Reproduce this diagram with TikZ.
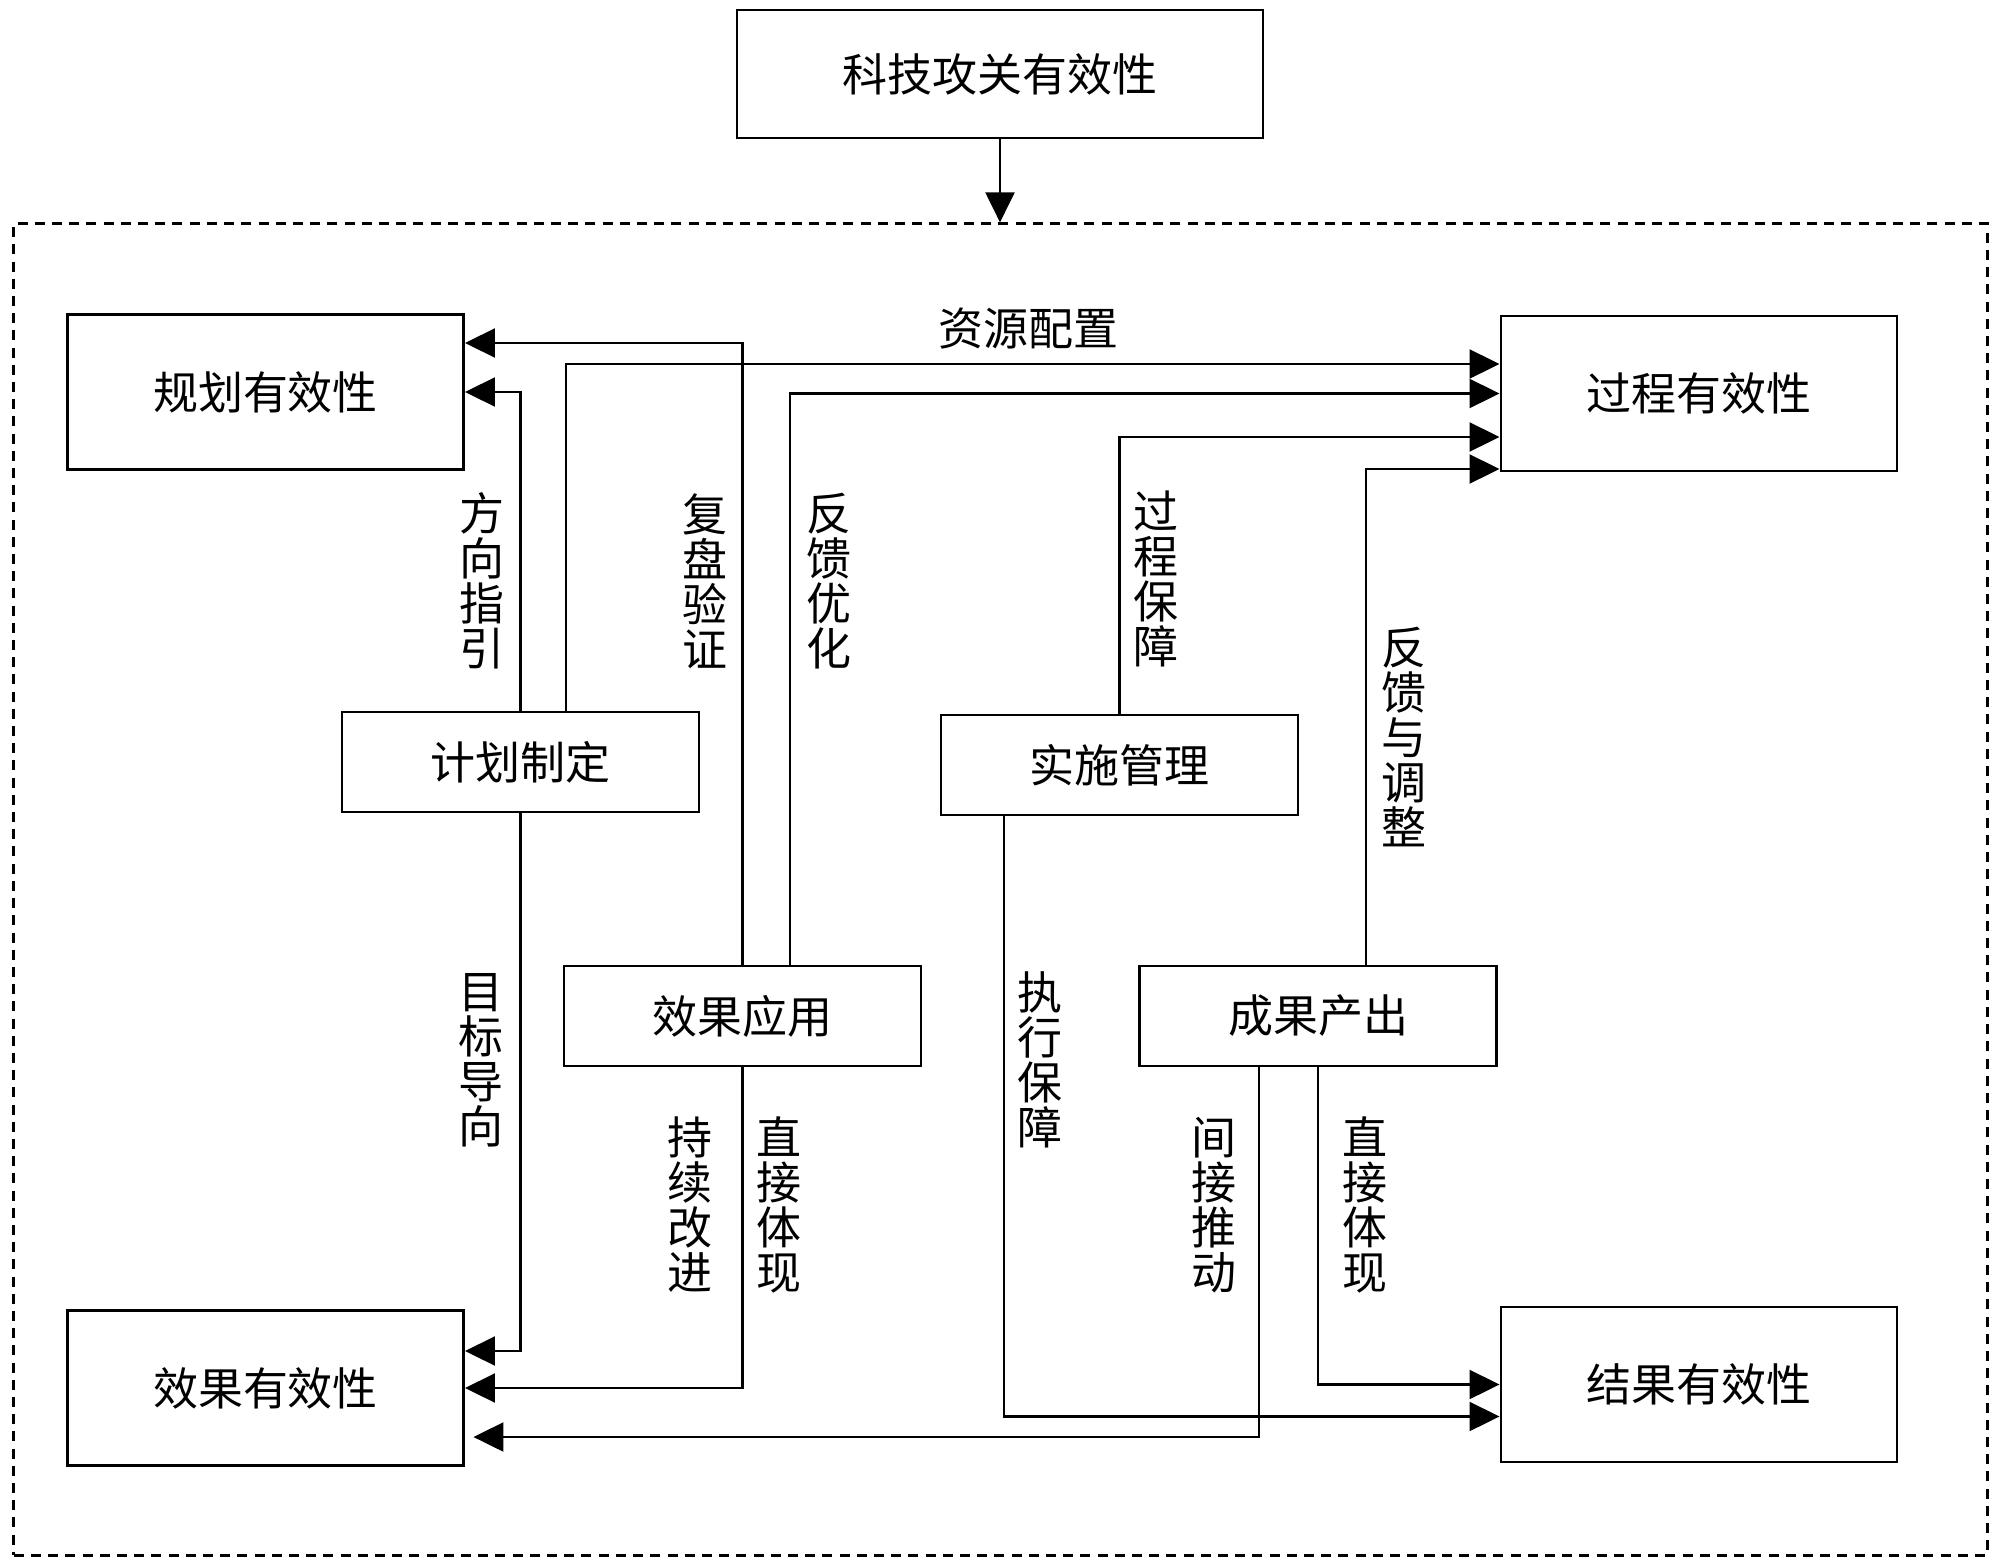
\documentclass[tikz,border=0pt]{standalone}
\usepackage{fontspec}
\newfontfamily\cjk{Noto Sans CJK SC}
\usetikzlibrary{arrows.meta,calc}
\begin{document}
\begin{tikzpicture}[x=0.025cm,y=-0.025cm,
  txt/.style={font=\cjk\fontsize{32pt}{32pt}\selectfont},
  box/.style={draw,line width=2pt,inner sep=0pt,txt},
  bigbox/.style={box,minimum width=9.9cm,minimum height=3.875cm},
  midbox/.style={box,minimum width=8.925cm,minimum height=2.5cm},
  vlab/.style={align=center,inner sep=0pt,txt},
  arr/.style={line width=2pt,-{Triangle[length=0.75cm,width=0.72cm]}}]
\useasboundingbox (0,0) rectangle (2000,1565);
% frame
\node[draw,dashed,line width=2pt,dash pattern=on 0.25cm off 0.18cm,minimum width=49.325cm,minimum height=33.275cm,inner sep=0pt] (frame) at (1000.5,889.5) {};
% top
\node[box,minimum width=13.15cm,minimum height=3.2cm] (top) at (1000,74) {科技攻关有效性};
\draw[arr] (top.south) -- (top.south |- frame.north);
% big boxes
\node[bigbox] (gh) at (265.5,392) {规划有效性};
\node[bigbox] (gc) at (1699,393.5) {过程有效性};
\node[bigbox] (xg) at (265.5,1388) {效果有效性};
\node[bigbox] (jg) at (1699,1384.5) {结果有效性};
% mid boxes
\node[midbox] (jh) at (520.5,762) {计划制定};
\node[midbox] (ss) at (1119.5,765) {实施管理};
\node[midbox] (xy) at (742.5,1016) {效果应用};
\node[midbox] (cg) at (1318,1016) {成果产出};
% connectors to 规划有效性
\draw[arr] (jh.north) |- (gh.east);
\draw[arr] (xy.north) |- ($(gh.east)+(0,-49)$);
% connectors to 过程有效性
\draw[arr] ($(jh.north)+(45.5,0)$) |- ($(gc.west)+(0,-29.5)$);
\draw[arr] ($(xy.north)+(47.5,0)$) |- (gc.west);
\draw[arr] (ss.north) |- ($(gc.west)+(0,43.5)$);
\draw[arr] ($(cg.north)+(48,0)$) |- ($(gc.west)+(0,75.5)$);
% connectors to 效果有效性
\draw[arr] (jh.south) |- ($(xg.east)+(0,-37)$);
\draw[arr] (xy.south) |- (xg.east);
\draw[arr,shorten >=6] ($(cg.south)+(-59,0)$) |- ($(xg.east)+(0,49)$);
% connectors to 结果有效性
\draw[arr] (cg.south) |- (jg.west);
\draw[arr] ($(ss.south)+(-115.5,0)$) |- ($(jg.west)+(0,32)$);
% labels
\node[txt,inner sep=0pt] (l1) at (1028,329) {资源配置};
\node[vlab] (l2) at (482,581) {方\\向\\指\\引};
\node[vlab] (l3) at (705,581) {复\\盘\\验\\证};
\node[vlab] (l4) at (829,581) {反\\馈\\优\\化};
\node[vlab] (l5) at (1156,579) {过\\程\\保\\障};
\node[vlab] (l6) at (1404,737) {反\\馈\\与\\调\\整};
\node[vlab] (l7) at (481,1060) {目\\标\\导\\向};
\node[vlab] (l8) at (690,1205) {持\\续\\改\\进};
\node[vlab] (l9) at (779,1205) {直\\接\\体\\现};
\node[vlab] (l10) at (1040,1060) {执\\行\\保\\障};
\node[vlab] (l11) at (1214,1205) {间\\接\\推\\动};
\node[vlab] (l12) at (1365,1205) {直\\接\\体\\现};
\end{tikzpicture}
\end{document}
